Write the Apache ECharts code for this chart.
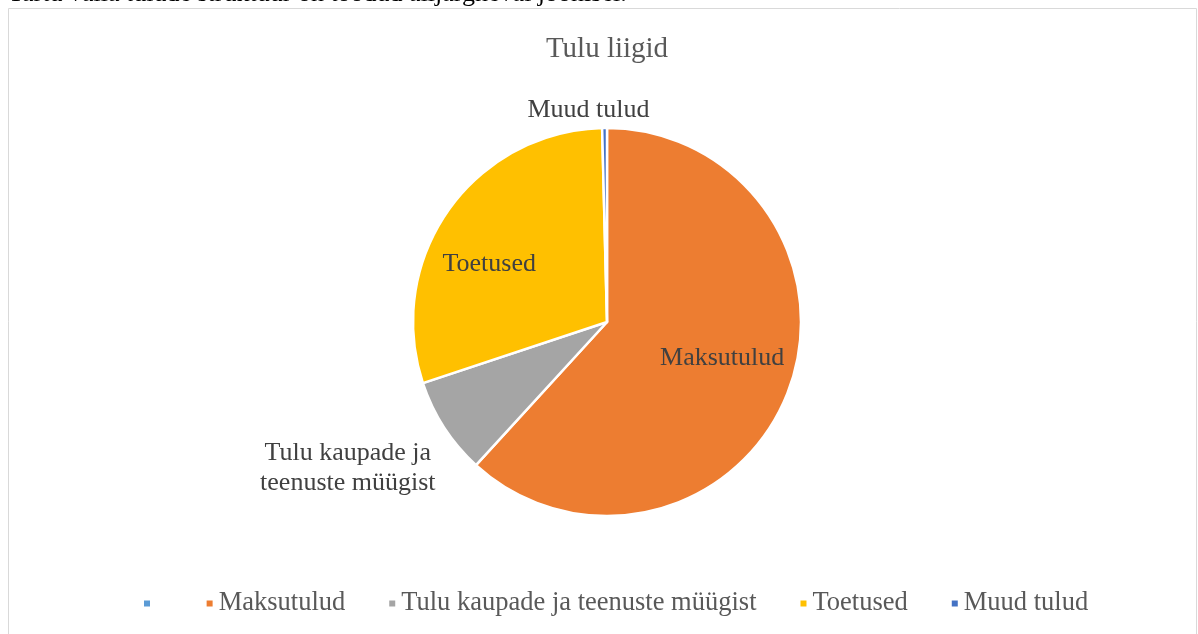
<!DOCTYPE html>
<html>
<head>
<meta charset="utf-8">
<script src="https://cdn.jsdelivr.net/npm/echarts@6/dist/echarts.min.js"></script>
<style>
  html, body { margin: 0; padding: 0; background: #fff; }
  #chart { width: 1198px; height: 634px; }
</style>
</head>
<body>
<div id="chart"></div>
<script>
// tulu liigid (protsent)
var categories = [' ', 'Maksutulud', 'Tulu kaupade ja teenuste müügist', 'Toetused', 'Muud tulud'];
var labelNames = ['', 'Maksutulud', 'Tulu kaupade ja\nteenuste müügist', 'Toetused', 'Muud tulud'];
var values = [0, 61.8, 8.1, 29.7, 0.4];
var colors = ['#5B9BD5', '#ED7D31', '#A5A5A5', '#FFC000', '#4472C4'];
// label nihe pärast paigutust
var labelShift = [[0, 0], [22, 0], [-88, 39], [-36, 0], [50, -14]];
var labelAlign = [null, null, 'center', null, null];

var myChart = echarts.init(document.getElementById('chart'));

var pieData = [];
for (var i = 0; i < categories.length; i++) {
    pieData.push({
        name: categories[i],
        value: values[i],
        itemStyle: { color: colors[i] },
        label: {
            show: i > 0,
            position: (i == 1 || i == 3) ? 'inside' : 'outside',
            formatter: labelNames[i]
        }
    });
}

var option = {
    animation: false,
    title: {
        text: 'Tulu liigid',
        left: 602,
        textAlign: 'center',
        top: 30,
        textStyle: { fontFamily: 'Liberation Serif', fontSize: 29, fontWeight: 'normal', color: '#595959' }
    },
    legend: {
        bottom: 12,
        left: 137,
        itemWidth: 8,
        itemHeight: 8,
        itemGap: 42,
        icon: 'rect',
        data: categories,
        textStyle: { fontFamily: 'Liberation Serif', fontSize: 26.5, color: '#595959' }
    },
    graphic: [
        {
            type: 'text',
            left: 8,
            top: -19,
            style: { text: 'Tartu valla tulude struktuur on toodud alljärgneval joonisel.', font: '26px "Liberation Serif"', fill: '#000' }
        },
        {
            type: 'rect',
            shape: { x: 8.5, y: 8.5, width: 1188, height: 640 },
            style: { fill: 'none', stroke: '#d9d9d9', lineWidth: 1 },
            silent: true
        }
    ],
    series: [{
        type: 'pie',
        center: [607, 322],
        radius: [0, 194],
        startAngle: 90,
        clockwise: true,
        data: pieData,
        itemStyle: { borderColor: '#fff', borderWidth: 2.5 },
        label: {
            fontFamily: 'Liberation Serif',
            fontSize: 26,
            color: '#404040',
            lineHeight: 30
        },
        labelLine: { show: false, length: 4, length2: 0 },
        labelLayout: function (params) {
            var s = labelShift[params.dataIndex];
            var out = { dx: s[0], dy: s[1] };
            if (labelAlign[params.dataIndex]) out.align = labelAlign[params.dataIndex];
            return out;
        }
    }]
};

myChart.setOption(option);
</script>
</body>
</html>
